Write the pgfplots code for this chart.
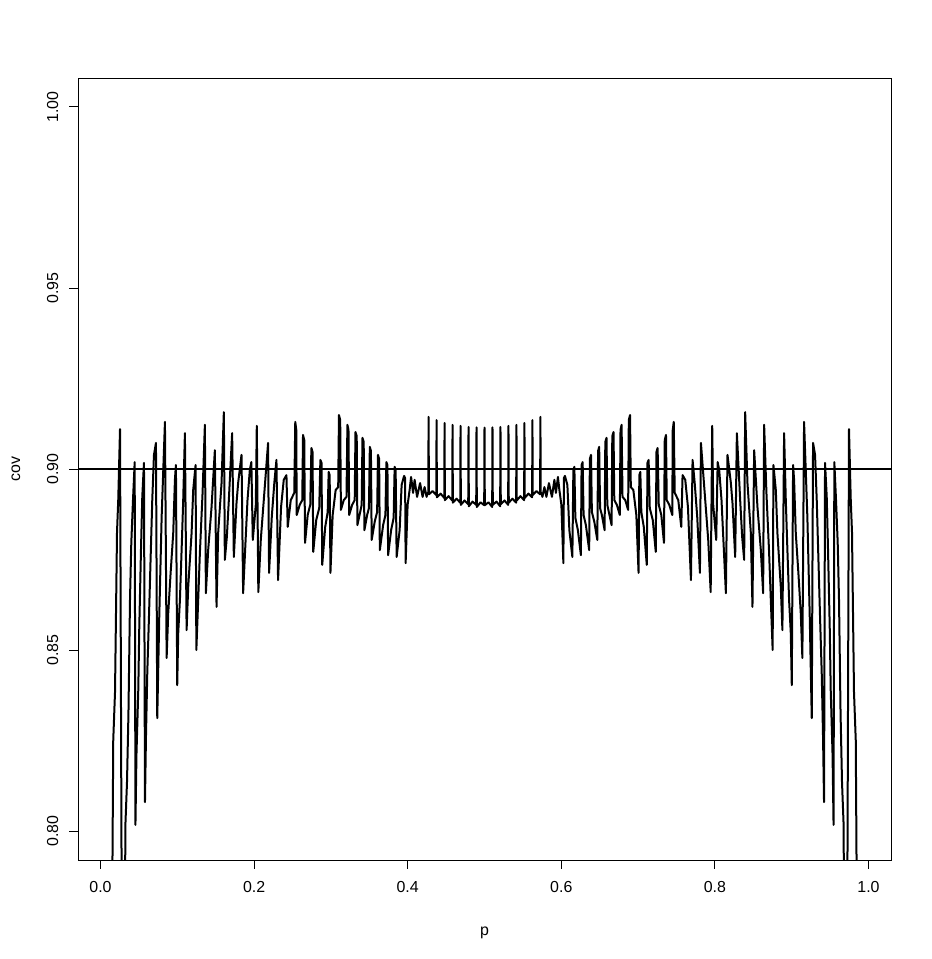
\documentclass[border=0pt]{standalone}
\usepackage{fontspec}
\setmainfont{Liberation Sans}
\usepackage{pgfplots}
\usepackage{pgfplotstable}
\pgfplotsset{compat=1.18}

% left half of the coverage curve
\pgfplotstableread{
p cov
0.0100 0.700
0.0143 0.750
0.0166 0.8251
0.0189 0.8384
0.0215 0.8826
0.0231 0.8914
0.0254 0.9110
0.0286 0.720
0.0299 0.720
0.0325 0.8022
0.0345 0.8135
0.0364 0.8326
0.0384 0.8638
0.0401 0.8796
0.0423 0.8914
0.0445 0.9019
0.0455 0.8017
0.0468 0.8210
0.0492 0.8390
0.0505 0.8564
0.0527 0.8776
0.0544 0.8923
0.0566 0.9017
0.0579 0.8080
0.0592 0.8260
0.0609 0.8436
0.0631 0.8591
0.0653 0.8757
0.0674 0.8914
0.0696 0.9039
0.0722 0.9072
0.0739 0.8312
0.0765 0.8591
0.0796 0.8867
0.0839 0.9130
0.0861 0.8478
0.0882 0.8602
0.0913 0.8713
0.0947 0.8823
0.0969 0.8970
0.0982 0.9011
0.0999 0.8403
0.1012 0.8547
0.1034 0.8638
0.1056 0.8776
0.1077 0.8914
0.1099 0.9099
0.1121 0.8555
0.1142 0.8674
0.1186 0.8823
0.1207 0.8942
0.1238 0.9011
0.1248 0.8500
0.1272 0.8638
0.1294 0.8768
0.1329 0.8934
0.1359 0.9122
0.1372 0.8657
0.1402 0.8776
0.1446 0.8895
0.1489 0.9052
0.1511 0.8619
0.1532 0.8823
0.1576 0.8961
0.1606 0.9157
0.1619 0.8749
0.1645 0.8812
0.1671 0.8914
0.1714 0.9099
0.1736 0.8757
0.1771 0.8906
0.1792 0.8961
0.1836 0.9039
0.1857 0.8657
0.1879 0.8757
0.1914 0.8914
0.1944 0.8997
0.1964 0.9019
0.1983 0.8804
0.2022 0.8901
0.2035 0.9119
0.2055 0.8660
0.2087 0.8804
0.2126 0.8914
0.2182 0.9072
0.2195 0.8713
0.2230 0.8867
0.2263 0.8961
0.2291 0.9025
0.2312 0.8693
0.2351 0.8895
0.2386 0.8970
0.2421 0.8983
0.2438 0.8840
0.2477 0.8914
0.2523 0.8934
0.2536 0.9130
0.2549 0.9108
0.2555 0.8873
0.2594 0.8901
0.2627 0.8914
0.2637 0.9094
0.2653 0.9080
0.2663 0.8796
0.2698 0.8873
0.2731 0.8901
0.2746 0.9058
0.2761 0.9047
0.2770 0.8771
0.2809 0.8859
0.2848 0.8892
0.2863 0.9025
0.2878 0.9017
0.2887 0.8735
0.2926 0.8840
0.2958 0.8881
0.2971 0.8992
0.2984 0.8983
0.2994 0.8713
0.3023 0.8873
0.3062 0.8942
0.3095 0.8950
0.3105 0.9149
0.3121 0.9135
0.3130 0.8887
0.3167 0.8914
0.3203 0.8923
0.3215 0.9122
0.3229 0.9108
0.3238 0.8873
0.3277 0.8901
0.3310 0.8914
0.3320 0.9102
0.3336 0.9091
0.3345 0.8845
0.3381 0.8881
0.3401 0.8901
0.3411 0.9086
0.3427 0.9075
0.3436 0.8831
0.3472 0.8873
0.3495 0.8892
0.3507 0.9061
0.3521 0.9050
0.3531 0.8804
0.3570 0.8854
0.3602 0.8881
0.3613 0.9039
0.3628 0.9028
0.3637 0.8776
0.3680 0.8845
0.3710 0.8873
0.3722 0.9019
0.3736 0.9011
0.3745 0.8762
0.3784 0.8831
0.3817 0.8865
0.3830 0.9006
0.3843 0.8997
0.3856 0.8757
0.3895 0.8831
0.3921 0.8956
0.3953 0.8981
0.3966 0.8975
0.3973 0.8740
0.3999 0.8901
0.4025 0.8942
0.4044 0.8978
0.4070 0.8934
0.4090 0.8970
0.4122 0.8923
0.4161 0.8961
0.4194 0.8923
0.4220 0.8950
0.4246 0.8923
0.4259 0.8934
}\leftdata

% middle part with the thin spikes
\pgfplotstableread{
p cov
0.4259 0.8934
0.4268 0.8934
0.4272 0.9144
0.4276 0.8930
0.4324 0.8939
0.4372 0.8928
0.4376 0.9135
0.4380 0.8922
0.4428 0.8932
0.4476 0.8920
0.4480 0.9127
0.4484 0.8914
0.4532 0.8925
0.4580 0.8913
0.4584 0.9122
0.4588 0.8907
0.4636 0.8918
0.4684 0.8907
0.4688 0.9119
0.4692 0.8901
0.4740 0.8913
0.4788 0.8903
0.4792 0.9116
0.4796 0.8897
0.4844 0.8910
0.4892 0.8901
0.4896 0.9115
0.4900 0.8895
0.4948 0.8908
0.4996 0.8900
0.5000 0.9114
0.5004 0.8900
0.5052 0.8908
0.5100 0.8895
0.5104 0.9115
0.5108 0.8901
0.5156 0.8910
0.5204 0.8897
0.5208 0.9116
0.5212 0.8903
0.5260 0.8913
0.5308 0.8901
0.5312 0.9119
0.5316 0.8907
0.5364 0.8918
0.5412 0.8907
0.5416 0.9122
0.5420 0.8913
0.5468 0.8925
0.5516 0.8914
0.5520 0.9127
0.5524 0.8920
0.5572 0.8932
0.5620 0.8922
0.5624 0.9135
0.5628 0.8928
0.5676 0.8939
0.5724 0.8930
0.5728 0.9144
0.5732 0.8934
0.5741 0.8934
}\middata

\begin{document}
\begin{tikzpicture}
\path[use as bounding box] (0,0) rectangle (932bp,959bp);
\begin{axis}[
  at={(78bp,99bp)}, anchor=south west,
  scale only axis, width=813bp, height=782bp,
  xmin=-0.0293, xmax=1.0293, ymin=0.792, ymax=1.008,
  xtick={0,0.2,0.4,0.6,0.8,1},
  xticklabels={0.0,0.2,0.4,0.6,0.8,1.0},
  ytick={0.8,0.85,0.9,0.95,1},
  yticklabels={0.80,0.85,0.90,0.95,1.00},
  xtick pos=bottom, ytick pos=left,
  tick align=outside, major tick length=9bp,
  tick style={black, line width=0.9bp},
  axis line style={black, line width=0.9bp},
  every tick label/.append style={font=\fontsize{16}{19}\selectfont, inner sep=0pt},
  xticklabel style={anchor=base},
  xticklabel shift=24bp,
  yticklabel style={rotate=90, anchor=base},
  yticklabel shift=11bp,
  xlabel={p}, ylabel={cov},
  label style={font=\fontsize{16}{19}\selectfont, inner sep=0pt},
  xlabel style={at={(axis description cs:0.5,-0.0960)}, anchor=base},
  ylabel style={at={(axis description cs:-0.0713,0.5)}, anchor=base, rotate=0},
  clip=true,
]
\addplot[black, line width=2.0bp, line join=round, line cap=round] table[x=p, y=cov] {\leftdata};
\addplot[black, line width=2.0bp, line join=round, line cap=round] table[x=p, y=cov] {\middata};
\addplot[black, line width=2.0bp, line join=round, line cap=round] table[x expr=1-\thisrow{p}, y=cov] {\leftdata};
\addplot[black, line width=2.0bp] coordinates {(-0.0293,0.9) (1.0293,0.9)};
\end{axis}
\end{tikzpicture}
\end{document}
